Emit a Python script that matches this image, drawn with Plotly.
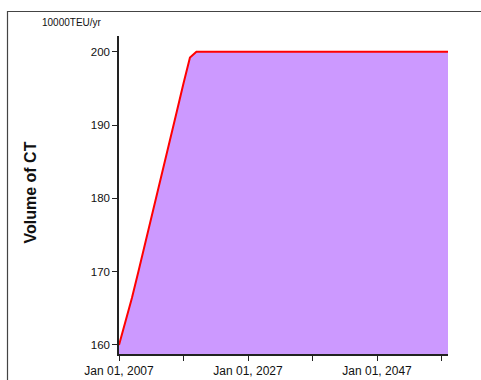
import plotly.graph_objects as go

years = list(range(2007, 2059))
volume_head = [160.0, 163.2, 166.4, 170.0, 173.6, 177.2, 180.9, 184.6,
               188.3, 192.0, 195.7, 199.2, 200.0]
volume = volume_head + [200.0] * (len(years) - len(volume_head))
dates = [f"{y}-01-01" for y in years]

tick_years = [2007, 2017, 2027, 2037, 2047, 2057]
tick_labels = ["Jan 01, 2007", "", "Jan 01, 2027", "", "Jan 01, 2047", ""]
y_ticks = [160, 170, 180, 190, 200]

x_range = ["2007-01-01", "2058-01-01"]
y_range = [158.77, 202.15]

font_family = "Liberation Sans, Arial, sans-serif"

FW, FH = 481, 380
L, T, W, H = 119, 36, 329, 318

fig = go.Figure()
fig.add_trace(go.Scatter(
    x=dates, y=volume, mode="lines",
    line=dict(color="#ff0000", width=2),
    fill="tozeroy", fillcolor="#cc99ff",
    showlegend=False,
))

axis_common = dict(showgrid=False, zeroline=False, automargin=False)

# outer frame: left and top edges only (right/bottom fall outside the view)
fx0 = (7.5 - L) / W
fx1 = (FW + 5 - L) / W
fy0 = -(FH + 5 - T - H) / H
fy1 = 1 + (T - 11.5) / H
frame_path = f"M {fx0},{fy0} L {fx0},{fy1} L {fx1},{fy1}"

fig.update_layout(
    width=FW, height=FH,
    margin=dict(l=L, r=FW - L - W, t=T, b=FH - T - H),
    paper_bgcolor="white", plot_bgcolor="white",
    font=dict(family=font_family, color="#111"),
    xaxis=dict(
        type="date", range=x_range,
        tickmode="array", tickvals=[f"{y}-01-01" for y in tick_years],
        ticktext=tick_labels,
        ticks="outside", ticklen=5, tickwidth=1.3, tickcolor="#222",
        showline=True, linecolor="#222", linewidth=1.5,
        tickfont=dict(size=12, family=font_family, color="#111"),
        **axis_common,
    ),
    xaxis2=dict(
        type="date", range=x_range, overlaying="x", anchor="y", side="bottom",
        tickmode="array", tickvals=[f"{y}-01-01" for y in tick_years],
        ticks="inside", ticklen=5, tickwidth=1.3, tickcolor="#222",
        showticklabels=False, showline=False,
        **axis_common,
    ),
    yaxis=dict(
        range=y_range, tickmode="array", tickvals=y_ticks,
        ticks="outside", ticklen=5, tickwidth=1.3, tickcolor="#222",
        showline=True, linecolor="#222", linewidth=1.5,
        tickfont=dict(size=11.5, family=font_family, color="#111"),
        **axis_common,
    ),
    yaxis2=dict(
        range=y_range, overlaying="y", anchor="x", side="left",
        tickmode="array", tickvals=y_ticks,
        ticks="inside", ticklen=5, tickwidth=1.3, tickcolor="#222",
        showticklabels=False, showline=False,
        **axis_common,
    ),
    shapes=[dict(
        type="path", xref="paper", yref="paper", path=frame_path,
        line=dict(color="#444", width=1.2),
    )],
    annotations=[
        dict(text="10000TEU/yr", xref="paper", yref="paper",
             x=(71.5 - L) / W, y=1 + (T - 22) / H, showarrow=False,
             xanchor="center", yanchor="middle",
             font=dict(size=10, family=font_family, color="#111")),
        dict(text="<b>Volume of CT</b>", xref="paper", yref="paper",
             x=(30 - L) / W, y=(T + H - 192.5) / H, showarrow=False,
             textangle=-90, xanchor="center", yanchor="middle",
             font=dict(size=16, family=font_family, color="#111")),
    ],
)

fig.write_html(
    "out.html",
    config={"displayModeBar": False},
    post_script="document.body.style.margin='0';document.body.style.overflow='hidden';",
)
